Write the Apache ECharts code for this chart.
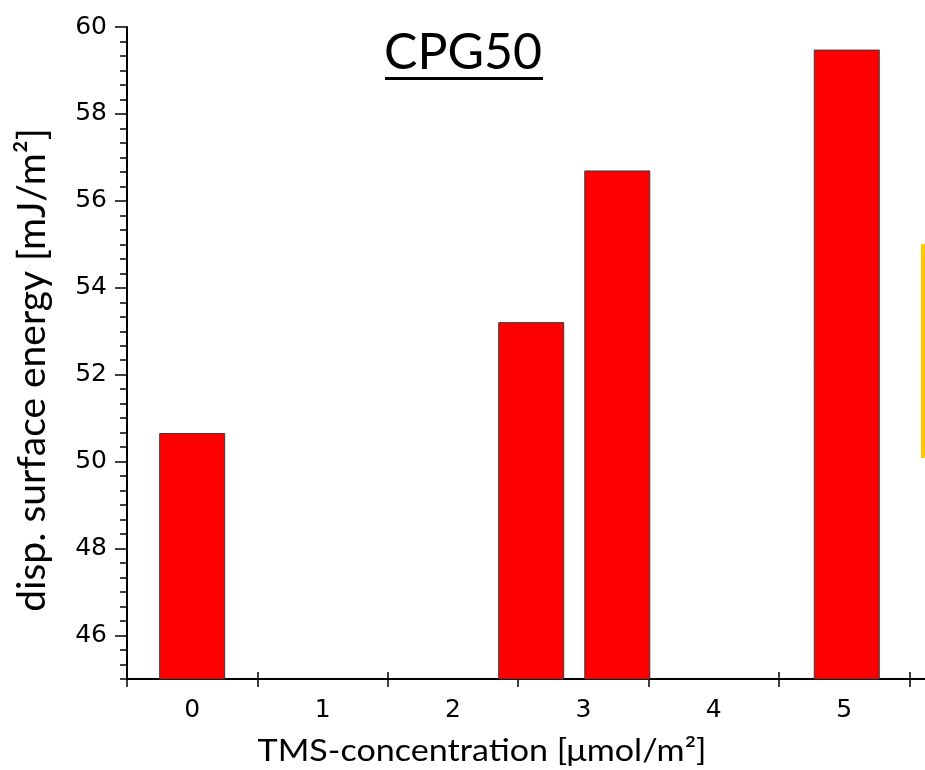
<!DOCTYPE html>
<html>
<head>
<meta charset="utf-8">
<script src="https://cdn.jsdelivr.net/npm/echarts@6/dist/echarts.min.js"></script>
<style>html,body{margin:0;padding:0;background:#fff}#c{width:925px;height:770px}</style>
</head>
<body>
<div id="c"></div>
<script>
// ---- data ----
const chartTitle = 'CPG50';
const xAxisTitle = 'TMS-concentration [\u03bcmol/m\u00b2]';
const yAxisTitle = 'disp. surface energy [mJ/m\u00b2]';
const concentrations = [0, 2.6, 3.26, 5.02];
const surfaceEnergy = [50.66, 53.21, 56.70, 59.48];
const xTickLabels = [0, 1, 2, 3, 4, 5];
const xTickMarks = [-0.5, 0.5, 1.5, 2.5, 3.5, 4.5, 5.5];
const yTickLabels = [46, 48, 50, 52, 54, 56, 58, 60];

const chart = echarts.init(document.getElementById('c'), null, {renderer: 'canvas'});
const grid = {left: 127, right: 0, top: 27, bottom: 91};
const xMin = -0.5, xMax = 5.62, yMin = 45, yMax = 60;
const tickFont = {fontFamily: '"DejaVu Sans", "Liberation Sans", Arial, sans-serif', fontSize: 25, color: '#000'};
const lineStyle = {color: '#000', width: 1.5};

const option = {
  animation: false,
  backgroundColor: '#fff',
  grid: grid,
  xAxis: [
    {
      type: 'value', min: xMin, max: xMax, position: 'bottom',
      splitLine: {show: false},
      axisLine: {show: true, onZero: false, lineStyle: {color: '#000', width: 2}},
      axisTick: {show: true, inside: false, length: 8, customValues: xTickMarks, lineStyle: lineStyle},
      axisLabel: Object.assign({show: true, margin: 19, customValues: xTickLabels, formatter: v => String(v)}, tickFont)
    },
    {
      type: 'value', min: xMin, max: xMax, position: 'bottom',
      splitLine: {show: false},
      axisLine: {show: false, onZero: false},
      axisTick: {show: true, inside: true, length: 7, customValues: xTickMarks, lineStyle: lineStyle},
      axisLabel: {show: false}
    }
  ],
  yAxis: [
    {
      type: 'value', min: yMin, max: yMax, interval: 1, position: 'left',
      splitLine: {show: false},
      axisLine: {show: true, onZero: false, lineStyle: {color: '#000', width: 2}},
      axisTick: {show: true, inside: false, length: 7, lineStyle: lineStyle},
      minorTick: {show: true, splitNumber: 3, length: 7, lineStyle: lineStyle},
      minorSplitLine: {show: false},
      axisLabel: {show: false}
    },
    {
      type: 'value', min: yMin, max: yMax, position: 'left', offset: 0,
      splitLine: {show: false},
      axisLine: {show: false, onZero: false},
      axisTick: {show: true, inside: false, length: 12, customValues: yTickLabels, lineStyle: lineStyle},
      axisLabel: Object.assign({show: true, margin: 20, customValues: yTickLabels, formatter: v => String(v)}, tickFont)
    }
  ],
  series: [{
    type: 'bar',
    xAxisIndex: 0, yAxisIndex: 0,
    barWidth: 66,
    data: concentrations.map((x, i) => [x, surfaceEnergy[i]]),
    itemStyle: {color: '#ff0000', borderColor: '#3a3a3a', borderWidth: 1},
    emphasis: {disabled: true}
  }],
  graphic: [
    {type: 'text', x: 463, y: 53, style: {text: chartTitle, x: 0, y: 0, align: 'center', verticalAlign: 'middle', font: '50px Lato, "Open Sans", sans-serif', fill: '#000'}},
    {type: 'rect', shape: {x: 385, y: 77, width: 158, height: 3}, style: {fill: '#000'}},
    {type: 'text', x: 482, y: 751, scaleX: 1.1, style: {text: xAxisTitle, x: 0, y: 0, align: 'center', verticalAlign: 'middle', font: '31px Lato, "Open Sans", sans-serif', fill: '#000'}},
    {type: 'text', x: 32, y: 370, rotation: Math.PI / 2, style: {text: yAxisTitle, x: 0, y: 0, align: 'center', verticalAlign: 'middle', font: '39px Lato, "Open Sans", sans-serif', fill: '#000'}},
    {type: 'rect', shape: {x: 921, y: 244, width: 4, height: 214}, style: {fill: '#ffc800'}}
  ]
};
chart.setOption(option);
</script>
</body>
</html>
